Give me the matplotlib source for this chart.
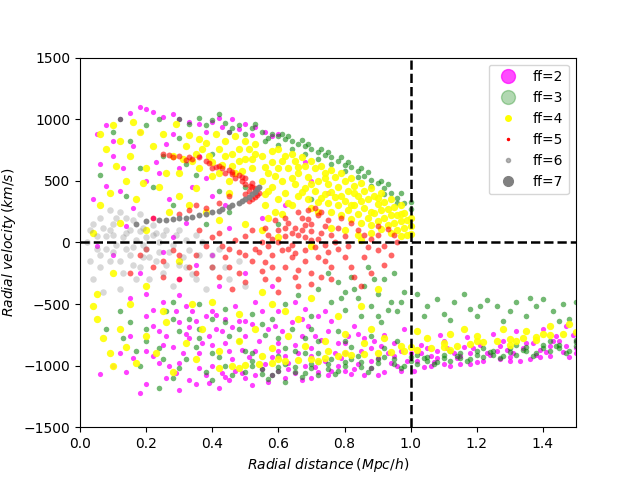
import matplotlib
matplotlib.use("Agg")
import matplotlib.pyplot as plt
from matplotlib.lines import Line2D

# points: (radial distance [Mpc/h], radial velocity [km/s])
ff2_pts = [
    # upper cloud, sparse
    (0.05, 880), (0.08, 950), (0.10, 820), (0.12, 1000), (0.15, 1050), (0.18, 1100), (0.20, 1080),
    (0.22, 1060), (0.25, 1020), (0.28, 1040), (0.30, 1000), (0.33, 980), (0.36, 960), (0.40, 980),
    (0.43, 940), (0.46, 1000), (0.50, 960), (0.53, 940), (0.56, 900), (0.60, 880), (0.45, 900),
    (0.52, 870), (0.38, 900), (0.10, 700), (0.13, 600), (0.16, 780), (0.20, 500), (0.23, 650),
    (0.26, 800), (0.30, 600), (0.34, 450), (0.36, 700), (0.40, 380), (0.44, 300), (0.27, 350),
    (0.22, 200), (0.16, 280), (0.08, 460), (0.06, 640), (0.32, 160), (0.45, 120), (0.55, 200),
    (0.62, 300), (0.70, 500), (0.75, 400), (0.68, 650), (0.48, 920), (0.42, 1010), (0.58, 860),
    (0.18, 900), (0.24, 560), (0.14, 130), (0.28, 880), (0.04, 350), (0.38, 520), (0.12, 420),
    # around zero
    (0.10, -100), (0.18, -250), (0.25, -80), (0.30, -300), (0.35, -180), (0.42, -350), (0.50, -250),
    (0.15, -450), (0.22, -550), (0.40, -100), (0.05, -30), (0.28, 40), (0.58, -350), (0.65, -480),
    (0.25, -480), (0.32, -520), (0.40, -560), (0.47, -520), (0.53, -480), (0.60, -560),
    (0.68, -540), (0.74, -560), (0.20, -420), (0.30, -430),
    # lower cloud
    (0.20, -600), (0.24, -720), (0.28, -850), (0.30, -650), (0.33, -780), (0.36, -900), (0.38, -600),
    (0.41, -700), (0.44, -820), (0.46, -950), (0.48, -640), (0.50, -760), (0.53, -880), (0.55, -560),
    (0.57, -700), (0.60, -820), (0.62, -920), (0.64, -650), (0.67, -760), (0.70, -860), (0.72, -600),
    (0.75, -720), (0.78, -820), (0.80, -900), (0.83, -680), (0.86, -780), (0.88, -860), (0.92, -750),
    (0.95, -820), (0.98, -700), (0.30, -980), (0.40, -1000), (0.26, -1100), (0.20, -1150),
    (0.14, -1050), (0.12, -900), (0.35, -1150), (0.45, -1120), (0.50, -1100), (0.58, -1080),
    (0.65, -1060), (0.72, -1050), (0.80, -1040), (0.88, -1020), (0.96, -1000), (0.18, -1220),
    (0.30, -1200), (0.10, -1000), (0.06, -1070), (0.42, -1180), (0.55, -1030), (0.62, -1100),
    (0.68, -1000), (0.75, -1080), (0.84, -990), (0.92, -1050), (0.52, -1160), (0.38, -1080),
    (0.32, -740), (0.46, -690), (0.58, -930), (0.66, -900), (0.74, -960), (0.82, -1070),
    (0.90, -940), (0.97, -880), (0.22, -920), (0.27, -1000), (0.43, -1060), (0.56, -990),
    (0.34, -560), (0.40, -830), (0.44, -620), (0.49, -870), (0.52, -660), (0.61, -720),
    (0.65, -830), (0.69, -680), (0.73, -790), (0.77, -900), (0.81, -760), (0.85, -880),
    (0.89, -800), (0.93, -900), (0.36, -1020), (0.47, -1040), (0.60, -1040), (0.70, -1100),
    (0.78, -1000), (0.86, -1080), (0.94, -980), (0.25, -830), (0.31, -900), (0.39, -760),
    (0.22, -680), (0.26, -760), (0.29, -560), (0.33, -690), (0.37, -820), (0.41, -590),
    (0.45, -880), (0.50, -640), (0.54, -800), (0.59, -680), (0.63, -980), (0.67, -620),
    (0.71, -760), (0.76, -640), (0.80, -820), (0.84, -740), (0.88, -960), (0.91, -840),
    (0.95, -920), (0.99, -960), (0.24, -980), (0.29, -1060), (0.33, -1120), (0.39, -1140),
    (0.44, -1090), (0.49, -1060), (0.53, -1080), (0.57, -1130), (0.63, -1030), (0.67, -1120),
    (0.71, -1010), (0.76, -1040), (0.83, -1030), (0.90, -1080), (0.97, -1040), (0.20, -880),
    (0.16, -940), (0.15, -760), (0.35, -640), (0.43, -720), (0.51, -930), (0.60, -880),
    (0.70, -920), (0.79, -940),
    # band beyond 1 Mpc/h
    (1.02, -960), (1.06, -920), (1.10, -990), (1.14, -940), (1.18, -900), (1.22, -960), (1.26, -880),
    (1.30, -930), (1.34, -860), (1.38, -910), (1.42, -840), (1.46, -890), (1.50, -860), (1.04, -1010),
    (1.20, -970), (1.36, -950), (1.48, -930), (1.03, -830), (1.10, -800), (1.17, -770), (1.25, -740),
    (1.32, -720), (1.40, -700), (1.47, -680), (1.08, -880), (1.28, -800), (1.44, -760), (1.12, -1000),
    (1.24, -910), (1.33, -960), (1.41, -890), (1.16, -850), (1.00, -900), (1.07, -970),
    (1.05, -860), (1.13, -900), (1.21, -830), (1.29, -870), (1.37, -820), (1.45, -800),
    (1.49, -750), (1.15, -990), (1.27, -950), (1.39, -930), (1.01, -1040), (1.09, -750),
    (1.03, -900), (1.08, -940), (1.11, -860), (1.15, -920), (1.19, -860), (1.23, -900),
    (1.27, -840), (1.31, -900), (1.35, -820), (1.39, -870), (1.43, -800), (1.47, -840),
    (1.50, -800), (1.06, -1000), (1.18, -990), (1.30, -960), (1.42, -920), (1.50, -900),
]

ff3_pts = [
    # outer edge of upper cloud
    (0.30, 1000), (0.33, 960), (0.36, 1010), (0.40, 990), (0.44, 970), (0.48, 950), (0.52, 930),
    (0.55, 900), (0.58, 880), (0.60, 860), (0.62, 840), (0.64, 820), (0.66, 800), (0.68, 780),
    (0.70, 760), (0.72, 730), (0.74, 710), (0.76, 690), (0.78, 660), (0.80, 630), (0.82, 610),
    (0.84, 580), (0.86, 540), (0.88, 510), (0.90, 480), (0.92, 440), (0.94, 400), (0.96, 360),
    (0.98, 320), (1.00, 270), (0.56, 820), (0.60, 790), (0.64, 760), (0.68, 720), (0.72, 680),
    (0.76, 640), (0.80, 580), (0.84, 530), (0.88, 460), (0.92, 390), (0.96, 320), (0.50, 880),
    (0.45, 900), (0.61, 880), (0.67, 830), (0.73, 760), (0.79, 690), (0.85, 600), (0.91, 500),
    (0.38, 950), (0.42, 1040), (0.46, 930), (0.53, 960), (0.57, 850), (0.63, 860), (0.69, 800),
    (0.75, 730), (0.81, 650), (0.87, 570), (0.93, 470), (0.97, 400), (1.00, 330),
    # upper interior
    (0.10, 900), (0.15, 820), (0.20, 950), (0.25, 700), (0.30, 850), (0.35, 550), (0.40, 720),
    (0.22, 450), (0.14, 380), (0.28, 300), (0.45, 250), (0.38, 150), (0.12, 1000), (0.06, 550),
    (0.50, 450), (0.60, 150), (0.70, 350), (0.32, 640), (0.24, 1000), (0.18, 600), (0.42, 420),
    # tail below zero
    (0.75, -250), (0.78, -320), (0.80, -400), (0.82, -280), (0.84, -450), (0.86, -350), (0.88, -520),
    (0.90, -420), (0.92, -300), (0.94, -480), (0.96, -560), (0.98, -400), (0.85, -600), (0.80, -550),
    (0.76, -480), (0.90, -600), (0.72, -380), (0.87, -200), (0.95, -250), (0.83, -380),
    (0.89, -300), (0.93, -550), (0.97, -480), (0.79, -450), (0.91, -650),
    (0.28, -480), (0.36, -500), (0.44, -540), (0.52, -580), (0.62, -500), (0.70, -600),
    (0.66, -430),
    # sparse band beyond 1 Mpc/h
    (1.02, -420), (1.05, -520), (1.08, -460), (1.10, -580), (1.13, -480), (1.16, -420), (1.18, -540),
    (1.20, -600), (1.23, -470), (1.26, -520), (1.30, -560), (1.32, -480), (1.35, -600), (1.38, -520),
    (1.40, -460), (1.43, -560), (1.46, -500), (1.48, -620), (1.50, -480), (1.12, -630), (1.28, -640),
    (1.45, -640), (1.04, -600), (1.21, -520), (1.36, -450),
    # lower cloud
    (0.15, -650), (0.20, -800), (0.25, -950), (0.30, -720), (0.35, -850), (0.40, -620), (0.45, -760),
    (0.50, -880), (0.55, -660), (0.60, -780), (0.65, -880), (0.70, -700), (0.08, -700), (0.12, -560),
    (0.18, -1000), (0.28, -1100), (0.38, -1050), (0.24, -1180), (0.44, -1000), (0.33, -620),
    (0.42, -930), (0.52, -900), (0.62, -860), (0.72, -900), (0.82, -850), (0.36, -780),
    (0.48, -700), (0.58, -620), (0.68, -780), (0.78, -720), (0.20, -700), (0.24, -860),
    (0.28, -620), (0.32, -950), (0.36, -700), (0.40, -900), (0.44, -650), (0.48, -800),
    (0.52, -960), (0.56, -750), (0.60, -920), (0.64, -700), (0.68, -900), (0.72, -800),
    (0.76, -950), (0.80, -800), (0.84, -920), (0.88, -760), (0.92, -860), (0.96, -800),
    (0.30, -1020), (0.40, -1120), (0.46, -1080), (0.62, -1130), (0.72, -1080), (0.26, -560),
    (0.17, -880), (0.13, -780),
    # dense dark band
    (0.50, -1050), (0.55, -1030), (0.60, -1040), (0.65, -1010), (0.70, -1020), (0.75, -990),
    (0.80, -1000), (0.85, -970), (0.90, -980), (0.95, -950), (1.00, -960), (1.05, -930),
    (1.10, -940), (1.15, -900), (1.20, -910), (1.25, -880), (1.30, -890), (1.35, -850),
    (1.40, -860), (1.45, -830), (1.50, -840), (0.52, -1000), (0.62, -990), (0.72, -970),
    (0.82, -950), (0.92, -930), (1.02, -910), (1.12, -880), (1.22, -860), (1.32, -830),
    (1.42, -800), (1.50, -790), (0.58, -1080), (0.68, -1060), (0.78, -1040), (0.88, -1020),
    (0.98, -1000), (1.08, -970), (1.18, -950), (1.28, -920), (1.38, -900), (1.48, -880),
    (0.55, -1070), (0.60, -1010), (0.65, -1050), (0.70, -990), (0.75, -1030), (0.80, -970),
    (0.85, -1010), (0.90, -950), (0.95, -990), (1.00, -930), (1.05, -960), (1.10, -910),
    (1.15, -940), (1.20, -880), (1.25, -910), (1.30, -860), (1.35, -880), (1.40, -830),
    (1.45, -860), (1.50, -810), (1.47, -900), (1.37, -920), (1.27, -940), (1.17, -960),
    (1.07, -990), (0.97, -1020), (0.87, -1050), (0.77, -1070), (0.67, -1090), (0.57, -1110),
    (1.02, -990), (1.12, -960), (1.22, -930), (1.32, -910), (1.42, -880), (1.04, -940),
    (1.14, -920), (1.24, -890), (1.34, -870), (1.44, -840),
]

ff4_pts = [
    # dense upper region
    (0.55, 500), (0.56, 610), (0.55, 700), (0.56, 300), (0.57, 420), (0.58, 650), (0.59, 540),
    (0.58, 450), (0.60, 350), (0.59, 250), (0.58, 740), (0.62, 700), (0.63, 600), (0.61, 500),
    (0.62, 400), (0.63, 320), (0.65, 660), (0.66, 560), (0.65, 470), (0.66, 380), (0.64, 300),
    (0.68, 620), (0.69, 530), (0.68, 440), (0.69, 350), (0.71, 600), (0.72, 500), (0.71, 420),
    (0.72, 330), (0.70, 280), (0.74, 560), (0.75, 470), (0.74, 390), (0.75, 320), (0.76, 250),
    (0.77, 530), (0.78, 450), (0.77, 370), (0.78, 300), (0.79, 220), (0.80, 500), (0.81, 420),
    (0.80, 340), (0.81, 260), (0.82, 190), (0.83, 460), (0.84, 380), (0.83, 300), (0.84, 230),
    (0.85, 160), (0.86, 420), (0.87, 350), (0.86, 280), (0.87, 200), (0.88, 140), (0.89, 380),
    (0.90, 310), (0.89, 240), (0.90, 170), (0.91, 110), (0.92, 330), (0.93, 270), (0.92, 200),
    (0.93, 140), (0.94, 80), (0.95, 290), (0.96, 220), (0.95, 160), (0.96, 100), (0.97, 50),
    (0.98, 240), (0.99, 180), (0.98, 120), (0.99, 60), (1.00, 200), (1.00, 130), (1.00, 70),
    (0.60, 760), (0.64, 720), (0.67, 690), (0.70, 660), (0.73, 620), (0.76, 590), (0.79, 560),
    (0.82, 520), (0.85, 480), (0.88, 440), (0.91, 400), (0.94, 350), (0.97, 300), (0.57, 200),
    (0.61, 230), (0.76, 120), (0.80, 100), (0.84, 60), (0.88, 80), (0.72, 250),
    (0.57, 560), (0.60, 600), (0.64, 520), (0.67, 410), (0.70, 470), (0.73, 360), (0.76, 410),
    (0.79, 380), (0.82, 300), (0.85, 340), (0.88, 250), (0.91, 260), (0.94, 220), (0.97, 170),
    (0.56, 390), (0.61, 660), (0.66, 610), (0.74, 520), (0.83, 400), (0.90, 360), (0.97, 230),
    # upper-left, moderate
    (0.32, 780), (0.35, 720), (0.38, 810), (0.40, 650), (0.42, 760), (0.44, 700), (0.46, 620),
    (0.48, 760), (0.50, 680), (0.52, 600), (0.36, 600), (0.40, 540), (0.45, 500), (0.50, 820),
    (0.47, 860), (0.41, 880), (0.53, 720), (0.34, 660), (0.30, 560), (0.28, 700), (0.49, 580),
    (0.43, 630), (0.37, 760), (0.51, 760), (0.46, 720), (0.33, 870), (0.39, 700), (0.53, 800),
    (0.44, 820), (0.48, 660), (0.52, 680), (0.42, 560), (0.47, 560), (0.31, 680), (0.36, 840),
    # upper-left, sparse
    (0.06, 880), (0.08, 760), (0.10, 950), (0.12, 820), (0.15, 700), (0.18, 900), (0.20, 600),
    (0.22, 780), (0.25, 880), (0.14, 500), (0.09, 400), (0.06, 300), (0.17, 350), (0.24, 450),
    (0.27, 250), (0.12, 160), (0.04, 80), (0.20, 100), (0.30, 380), (0.33, 300), (0.38, 250),
    (0.45, 400), (0.50, 150), (0.55, 100), (0.60, 40), (0.70, -30), (0.85, 20), (0.26, 560),
    (0.19, 480), (0.11, 620), (0.35, 440), (0.42, 180), (0.16, 980), (0.29, 960),
    # middle, below zero
    (0.05, -420), (0.10, -250), (0.20, -350), (0.30, -150), (0.15, -500), (0.40, -480),
    (0.55, -400), (0.70, -450), (0.85, -520), (0.90, -380), (0.62, -560), (0.78, -600),
    (0.34, -500), (0.48, -580), (0.58, -500), (0.25, -560),
    # lower cloud, left spread
    (0.05, -620), (0.07, -780), (0.09, -900), (0.12, -700), (0.14, -850), (0.17, -980),
    (0.20, -760), (0.23, -900), (0.26, -650), (0.10, -1000), (0.28, -1050), (0.04, -520),
    # lower cloud, middle
    (0.32, -820), (0.37, -700), (0.42, -880), (0.48, -800), (0.53, -700), (0.58, -860),
    (0.63, -760), (0.68, -840), (0.74, -800), (0.80, -740), (0.86, -820), (0.92, -780),
    (0.97, -840), (0.35, -950), (0.55, -920), (0.75, -880), (0.88, -700), (0.66, -620),
    # thin line in the lower band
    (0.42, -1020), (0.46, -1005), (0.50, -995), (0.54, -985), (0.58, -975), (0.62, -965),
    (0.66, -955), (0.70, -945), (0.74, -935), (0.78, -925), (0.82, -915), (0.86, -905),
    (0.90, -898), (0.94, -890), (0.98, -880), (1.02, -870), (1.06, -860), (1.10, -850),
    (1.14, -838), (1.18, -825), (1.22, -812), (1.26, -800), (1.30, -788), (1.34, -776),
    (1.38, -764), (1.42, -752), (1.46, -740), (1.50, -730), (0.60, -950), (0.80, -900),
    (1.00, -850), (1.20, -800), (1.40, -740), (0.48, -1020), (0.72, -960), (1.12, -870),
    (1.32, -800),
    # above the line beyond 1 Mpc/h
    (1.05, -780), (1.12, -740), (1.20, -760), (1.28, -700), (1.35, -720), (1.42, -680),
    (1.48, -660), (1.10, -820), (1.30, -830), (1.16, -700), (1.38, -790), (1.02, -720),
]

ff5_pts = [
    # outer arc
    (0.25, 720), (0.30, 700), (0.34, 680), (0.38, 660), (0.42, 620), (0.45, 590), (0.48, 550),
    (0.50, 520), (0.52, 480), (0.53, 440), (0.54, 400), (0.53, 370), (0.51, 340), (0.40, 600),
    (0.44, 560), (0.47, 520), (0.50, 470), (0.51, 420), (0.36, 690), (0.46, 570), (0.49, 500),
    (0.52, 450), (0.53, 410), (0.28, 690), (0.32, 670), (0.43, 600), (0.50, 390),
    (0.27, 710), (0.33, 690), (0.39, 645), (0.41, 610), (0.46, 555), (0.49, 530), (0.515, 460),
    (0.535, 385), (0.52, 355),
    # spots under the arc
    (0.30, 230), (0.33, 260), (0.38, 280), (0.42, 320), (0.22, 200), (0.45, 380), (0.35, 300),
    # blob
    (0.62, 50), (0.65, 120), (0.67, 200), (0.69, 260), (0.70, 150), (0.72, 220), (0.73, 80),
    (0.75, 180), (0.68, 40), (0.64, -20), (0.71, -40), (0.66, 250), (0.63, 160), (0.70, 90),
    (0.74, 130), (0.67, 100), (0.69, 190), (0.72, 30), (0.66, 60), (0.71, 280), (0.60, 0),
    (0.64, 80), (0.68, 140), (0.73, 250), (0.76, 60), (0.62, 120), (0.58, 30), (0.61, -60),
    # wide region around zero
    (0.45, -50), (0.50, 50), (0.55, 0), (0.58, -100), (0.60, 100), (0.52, -150), (0.48, -250),
    (0.56, -300), (0.62, -200), (0.66, -350), (0.70, -250), (0.74, -150), (0.78, -50), (0.80, 50),
    (0.84, 100), (0.88, 30), (0.92, -30), (0.95, 60), (0.82, -200), (0.76, -300), (0.86, -120),
    (0.40, -200), (0.35, -100), (0.30, -300), (0.25, -150), (0.20, -50), (0.42, 80), (0.78, 120),
    (0.90, 130), (0.85, -350), (0.60, -400), (0.54, -80), (0.64, -120), (0.68, -60), (0.57, 60),
    (0.44, -120), (0.50, -320), (0.38, -30), (0.82, 160), (0.93, 110), (0.76, -200), (0.58, -200),
    (0.47, 20), (0.52, 100), (0.56, -160), (0.66, -220), (0.72, -120), (0.80, -120), (0.86, 60),
    (0.90, -60), (0.33, -200), (0.28, -60), (0.42, -280), (0.46, -380), (0.70, -340),
    (0.88, -250), (0.94, -100), (0.36, 100), (0.40, 40), (0.30, -100), (0.35, -250),
    (0.45, -200), (0.50, -100), (0.53, -50), (0.55, -230), (0.60, -300), (0.63, -50),
    (0.65, -280), (0.68, -150), (0.73, -280), (0.75, -80), (0.77, 0), (0.79, 200), (0.81, -30),
    (0.83, -280), (0.87, -40), (0.90, 60), (0.92, -180), (0.96, 0), (0.56, 120), (0.59, 180),
    (0.65, -90), (0.70, 20), (0.74, -20), (0.62, 200), (0.57, -30), (0.48, -80), (0.43, -30),
    (0.25, -280), (0.22, -200), (0.18, -100), (0.15, -250),
]

ff6_pts = [
    (0.03, 100), (0.05, -50), (0.06, 200), (0.08, 50), (0.09, -150), (0.10, 150), (0.11, -20),
    (0.12, 250), (0.13, -250), (0.14, 80), (0.15, -100), (0.16, 180), (0.17, 20), (0.18, -200),
    (0.19, 120), (0.20, -50), (0.21, -300), (0.22, 60), (0.23, -150), (0.24, 0), (0.25, -250),
    (0.26, 100), (0.27, -80), (0.28, -350), (0.30, -180), (0.32, 20), (0.34, -260), (0.36, -100),
    (0.38, -380), (0.40, -200), (0.42, -50), (0.45, -300), (0.48, -150), (0.04, -300), (0.07, -400),
    (0.02, 0), (0.12, -380), (0.30, 100), (0.35, 60), (0.50, -350), (0.07, 120), (0.10, -80),
    (0.13, 40), (0.16, -40), (0.19, -120), (0.22, 140), (0.25, 60), (0.28, -20), (0.33, -60),
    (0.06, -200), (0.14, 200), (0.18, 90), (0.09, 260), (0.24, -80), (0.31, -120),
    (0.04, 150), (0.05, 50), (0.08, -50), (0.10, 60), (0.11, 200), (0.12, -150), (0.14, -50),
    (0.15, 100), (0.17, -300), (0.18, 230), (0.20, 40), (0.21, -120), (0.23, 80), (0.26, -180),
    (0.29, 60), (0.32, -200), (0.35, -300), (0.37, 0), (0.40, -100), (0.44, -200), (0.03, -150),
    (0.06, -100), (0.09, 100), (0.16, -180), (0.19, -20),
]

ff7_pts = [
    (0.17, 150), (0.20, 170), (0.24, 180), (0.28, 190), (0.32, 200), (0.36, 220), (0.40, 245),
    (0.43, 270), (0.46, 300), (0.49, 335), (0.51, 370), (0.53, 410), (0.54, 450), (0.26, 185),
    (0.30, 195), (0.34, 210), (0.38, 232), (0.42, 258), (0.45, 287), (0.48, 318), (0.50, 352),
    (0.52, 390), (0.535, 430),
]

labels = ['ff=2', 'ff=3', 'ff=4', 'ff=5', 'ff=6', 'ff=7']


def xy(pts):
    return [p[0] for p in pts], [p[1] for p in pts]


fig, ax = plt.subplots(figsize=(6.4, 4.8), dpi=100)

x, y = xy(ff2_pts)
ax.scatter(x, y, s=14, c='magenta', alpha=0.75, linewidths=0)
x, y = xy(ff3_pts)
ax.scatter(x, y, s=16, c='green', alpha=0.55, linewidths=0)
x, y = xy(ff4_pts)
ax.scatter(x, y, s=28, c='yellow', alpha=0.9, linewidths=0)
x, y = xy(ff5_pts)
ax.scatter(x, y, s=18, c='red', alpha=0.6, linewidths=0)
x, y = xy(ff6_pts)
ax.scatter(x, y, s=22, c='gray', alpha=0.3, linewidths=0)
x, y = xy(ff7_pts)
ax.scatter(x, y, s=18, c='gray', alpha=0.95, linewidths=0)

ax.axhline(0, color='k', ls='--', lw=1.8)
ax.axvline(1.0, color='k', ls='--', lw=1.8)

ax.set_xlim(0, 1.5)
ax.set_ylim(-1500, 1500)
ax.set_xlabel(r'$Radial\ distance\,(Mpc/h)$')
ax.set_ylabel(r'$Radial\ velocity\,(km/s)$')

handles = [
    Line2D([], [], ls='', marker='o', color='magenta', alpha=0.7, markersize=10),
    Line2D([], [], ls='', marker='o', color='green', alpha=0.3, markersize=10),
    Line2D([], [], ls='', marker='o', color='yellow', markersize=4),
    Line2D([], [], ls='', marker='o', color='red', markersize=1.5),
    Line2D([], [], ls='', marker='o', color='gray', alpha=0.6, markersize=3),
    Line2D([], [], ls='', marker='o', color='gray', markersize=7),
]
ax.legend(handles, labels, loc='upper right')

fig.savefig('out.png', dpi=100)
